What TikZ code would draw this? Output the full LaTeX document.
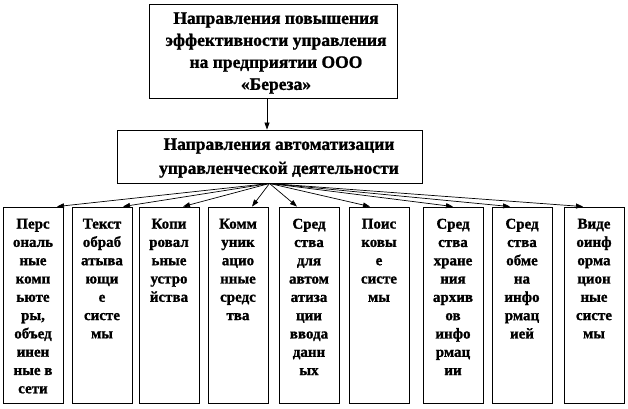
\documentclass[tikz,border=0pt]{standalone}
\usepackage{fontspec}
\setmainfont{Liberation Serif}[BoldFeatures={FakeBold=1.2}]
\usetikzlibrary{arrows.meta}
\begin{document}
\begin{tikzpicture}[x=1pt,y=-1pt,
  box/.style={draw=black,line width=0.9pt,inner sep=0pt},
  small/.style={box,minimum width=60pt,minimum height=196pt},
  smalltxt/.style={anchor=north,align=center,inner sep=0pt,font=\fontsize{15}{18.3}\selectfont\bfseries},
  arr/.style={draw=black,line width=0.7pt,-{Triangle[length=7pt,width=5pt]}}]
\useasboundingbox (0,0) rectangle (628,408);
\node[box,minimum width=248pt,minimum height=94pt] (top) at (273,51) {};
\node[align=center,inner sep=0pt,font=\fontsize{17.5}{22}\selectfont\bfseries] (toptxt)
  at (276,53) {Направления повышения\\эффективности управления\\на предприятии ООО\\«Береза»};
\node[box,minimum width=305pt,minimum height=53pt] (mid) at (269.5,156.5) {};
\node[align=center,inner sep=0pt,font=\fontsize{17.5}{24}\selectfont\bfseries] (midtxt)
  at (279,158) {Направления автоматизации\\управленческой деятельности};
\draw[arr] (top.south -| 267,0) -- (mid.north -| 267,0);
\foreach \i/\x/\dx/\t in {
  1/33/24/{Перс\\ональ\\ные\\комп\\ьюте\\ры,\\объед\\инен\\ные в\\сети},
  2/102/21/{Текст\\обраб\\атыва\\ющи\\е\\систе\\мы},
  3/169/14/{Копи\\ровал\\ьные\\устро\\йства},
  4/238/14/{Комм\\уник\\ацио\\нные\\средс\\тва},
  5/309/-12/{Сред\\ства\\для\\автом\\атиза\\ции\\ввода\\данн\\ых},
  6/379/-9/{Поис\\ковы\\е\\систе\\мы},
  7/453/0/{Сред\\ства\\хране\\ния\\архив\\ов\\инфо\\рмац\\ии},
  8/522/-12/{Сред\\ства\\обме\\на\\инфо\\рмац\\ией},
  9/594/-11/{Виде\\оинф\\орма\\цион\\ные\\систе\\мы}}{
  \node[small] (b\i) at (\x,305) {};
  \node[smalltxt] (t\i) at ([yshift=-12pt]b\i.north) {\t};
  \draw[arr] (mid.south) -- ([xshift=\dx pt]b\i.north);
}
\end{tikzpicture}
\end{document}
